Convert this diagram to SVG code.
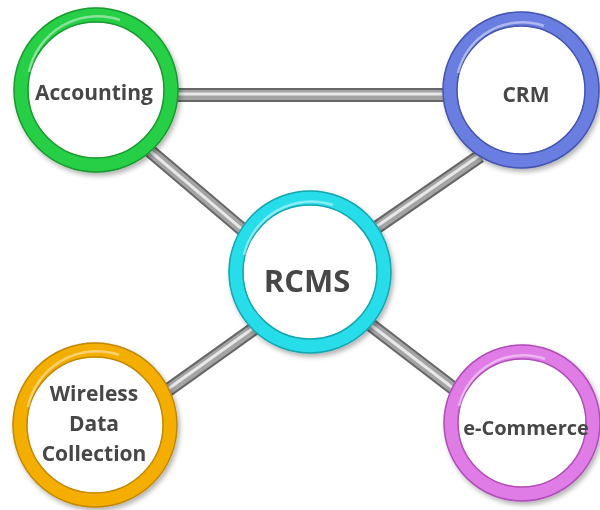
<svg xmlns="http://www.w3.org/2000/svg" width="600" height="510" viewBox="0 0 600 510">
<defs>
<style>
.tube-base{stroke:#666666;stroke-width:14;stroke-linecap:butt;fill:none}
.tube-mid{stroke:#a4a4a4;stroke-width:10;fill:none}
.tube-hi{stroke:#e8e8e8;stroke-width:3;fill:none}
.fill{fill:#ffffff}
.ring{fill:none;stroke-width:14.5}
.edge{fill:none;stroke-width:1.5}
.hl{fill:none;stroke:#ffffff;stroke-width:2.5;opacity:0.45}
.lbl{font-family:"Open Sans","Noto Sans","DejaVu Sans",sans-serif;font-weight:bold;fill:#464646;text-anchor:middle}
</style>
<filter id="sh" x="-20%" y="-20%" width="140%" height="140%">
<feDropShadow dx="2" dy="3" stdDeviation="2.5" flood-color="#000" flood-opacity="0.3"/>
</filter>
</defs>
<rect width="600" height="510" fill="#ffffff"/>
<g id="connectors">
<g id="c-acc-crm">
<line class="tube-base" x1="170" y1="95" x2="450" y2="95"/>
<line class="tube-mid" x1="170" y1="95" x2="450" y2="95"/>
<line class="tube-hi" x1="170" y1="94" x2="450" y2="94"/>
</g>
<g id="c-acc-rcms">
<line class="tube-base" x1="140" y1="142.5" x2="260" y2="244.5"/>
<line class="tube-mid" x1="140" y1="142.5" x2="260" y2="244.5"/>
<line class="tube-hi" x1="140" y1="142.5" x2="260" y2="244.5"/>
</g>
<g id="c-crm-rcms">
<line class="tube-base" x1="370" y1="232" x2="480" y2="156"/>
<line class="tube-mid" x1="370" y1="232" x2="480" y2="156"/>
<line class="tube-hi" x1="370" y1="231" x2="480" y2="155"/>
</g>
<g id="c-rcms-wireless">
<line class="tube-base" x1="160" y1="395.7" x2="260" y2="324.3"/>
<line class="tube-mid" x1="160" y1="395.7" x2="260" y2="324.3"/>
<line class="tube-hi" x1="160" y1="394.7" x2="260" y2="323.3"/>
</g>
<g id="c-rcms-ecom">
<line class="tube-base" x1="365" y1="320.5" x2="465" y2="397.2"/>
<line class="tube-mid" x1="365" y1="320.5" x2="465" y2="397.2"/>
<line class="tube-hi" x1="365" y1="320.5" x2="465" y2="397.2"/>
</g>
</g>
<g id="node-accounting" filter="url(#sh)">
<circle class="fill" cx="96" cy="90" r="69"/>
<circle class="ring" cx="96" cy="90" r="75" stroke="#26cf45"/>
<circle class="edge" cx="96" cy="90" r="82" stroke="#1a9a30"/>
<circle class="edge" cx="96" cy="90" r="68" stroke="#1a9a30"/>
<path class="hl" d="M 29 72 A 70 70 0 0 1 120 20"/>
<text class="lbl" x="94" y="100" font-size="21">Accounting</text>
</g>
<g id="node-crm" filter="url(#sh)">
<circle class="fill" cx="521" cy="90" r="65"/>
<circle class="ring" cx="521" cy="90" r="71" stroke="#6b7ee2"/>
<circle class="edge" cx="521" cy="90" r="78" stroke="#4454ae"/>
<circle class="edge" cx="521" cy="90" r="64" stroke="#4454ae"/>
<path class="hl" d="M 458 73 A 66 66 0 0 1 544 26"/>
<text class="lbl" x="526" y="102" font-size="21">CRM</text>
</g>
<g id="node-rcms" filter="url(#sh)">
<circle class="fill" cx="310" cy="272" r="68"/>
<circle class="ring" cx="310" cy="272" r="74" stroke="#28dde9"/>
<circle class="edge" cx="310" cy="272" r="81" stroke="#14a6b0"/>
<circle class="edge" cx="310" cy="272" r="67" stroke="#14a6b0"/>
<path class="hl" d="M 244 255 A 69 69 0 0 1 333 205"/>
<text class="lbl" x="307" y="292" font-size="31">RCMS</text>
</g>
<g id="node-wireless" filter="url(#sh)">
<circle class="fill" cx="95" cy="425" r="69"/>
<circle class="ring" cx="95" cy="425" r="75" stroke="#f4ae00"/>
<circle class="edge" cx="95" cy="425" r="82" stroke="#c28800"/>
<circle class="edge" cx="95" cy="425" r="68" stroke="#c28800"/>
<path class="hl" d="M 28 407 A 70 70 0 0 1 119 355"/>
<text class="lbl" x="94" y="401" font-size="21">Wireless</text>
<text class="lbl" x="94" y="431" font-size="21">Data</text>
<text class="lbl" x="94" y="461" font-size="21">Collection</text>
</g>
<g id="node-ecommerce" filter="url(#sh)">
<circle class="fill" cx="522" cy="423" r="65"/>
<circle class="ring" cx="522" cy="423" r="71" stroke="#e07be6"/>
<circle class="edge" cx="522" cy="423" r="78" stroke="#b04eb8"/>
<circle class="edge" cx="522" cy="423" r="64" stroke="#b04eb8"/>
<path class="hl" d="M 459 406 A 66 66 0 0 1 545 359"/>
<text class="lbl" x="526" y="435" font-size="20">e-Commerce</text>
</g>
</svg>
